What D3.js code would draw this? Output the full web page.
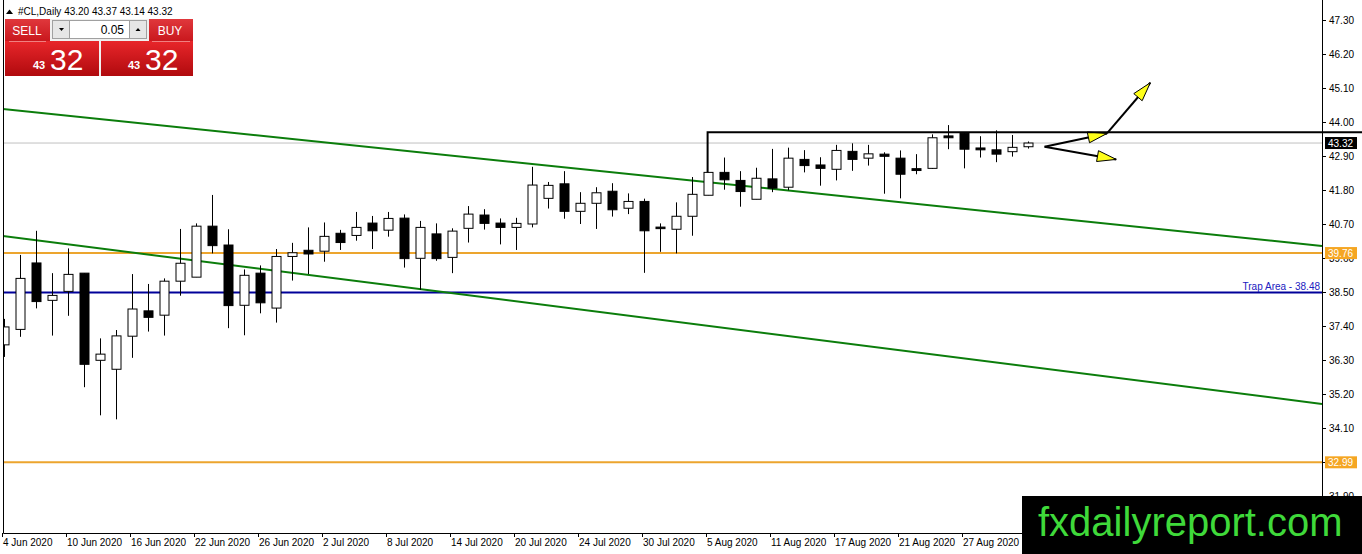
<!DOCTYPE html>
<html>
<head>
<meta charset="utf-8">
<script src="https://cdn.jsdelivr.net/npm/d3@7"></script>
<style>
  body { margin: 0; background: #fff; }
  text { font-family: "Liberation Sans", Arial, sans-serif; }
</style>
</head>
<body>
<script>
const width = 1362;
const height = 554;

// OHLC per daily bar, 4 Jun 2020 .. 2 Sep 2020
const opens  = [36.79, 37.29, 39.44, 38.23, 38.52, 39.11, 36.29, 36.00, 37.07, 37.89,
                37.75, 38.85, 38.98, 40.63, 40.02, 38.07, 39.11, 37.98, 39.65, 39.85,
                39.82, 40.40, 40.33, 40.73, 40.50, 40.89, 39.59, 40.38, 39.62, 40.56,
                40.99, 40.73, 40.59, 40.70, 41.53, 42.00, 41.11, 41.37, 41.76, 41.21,
                41.43, 40.60, 40.53, 40.95, 41.63, 42.37, 42.11, 41.50, 42.16, 41.89,
                42.79, 42.61, 42.47, 43.05, 42.83, 42.96, 42.83, 42.49, 42.50, 43.55,
                43.63, 43.16, 43.10, 43.04, 43.20];
const highs  = [37.63, 39.70, 40.48, 39.11, 39.91, 39.11, 37.00, 37.27, 39.08, 38.76,
                38.94, 40.54, 40.72, 41.64, 40.53, 39.23, 39.36, 39.89, 40.09, 40.59,
                40.75, 40.51, 41.09, 40.96, 41.09, 41.01, 40.80, 40.72, 40.56, 41.28,
                41.18, 40.88, 40.90, 42.55, 42.06, 42.41, 41.73, 41.89, 42.02, 41.69,
                41.52, 40.72, 41.40, 42.22, 42.37, 42.85, 42.41, 42.52, 43.13, 43.17,
                43.09, 42.86, 43.26, 43.31, 43.26, 43.02, 43.08, 42.96, 43.60, 43.90,
                43.66, 43.54, 43.73, 43.58, 43.37];
const lows   = [36.40, 37.05, 37.97, 37.09, 37.73, 35.42, 34.51, 34.38, 36.37, 37.22,
                37.09, 38.38, 38.98, 39.75, 37.33, 37.10, 37.81, 37.51, 38.87, 39.08,
                39.48, 39.86, 40.16, 39.89, 40.29, 39.29, 38.57, 39.51, 39.11, 40.10,
                40.52, 40.04, 39.86, 40.59, 41.20, 40.87, 40.70, 40.54, 40.94, 41.02,
                39.12, 39.80, 39.75, 40.32, 41.63, 41.81, 41.26, 41.50, 41.73, 41.79,
                42.37, 41.94, 42.11, 42.42, 42.59, 41.68, 41.53, 42.31, 42.48, 43.12,
                42.50, 42.85, 42.70, 42.88, 43.14];
const closes = [37.37, 38.94, 38.19, 38.39, 39.07, 36.16, 36.49, 37.08, 37.95, 37.68,
                38.85, 39.43, 40.63, 40.00, 38.06, 39.04, 38.15, 39.65, 39.77, 39.73,
                40.30, 40.10, 40.59, 40.48, 40.88, 39.58, 40.59, 39.58, 40.47, 41.02,
                40.72, 40.59, 40.72, 41.96, 41.95, 41.11, 41.37, 41.71, 41.16, 41.43,
                40.48, 40.55, 40.95, 41.66, 42.37, 42.13, 41.75, 42.18, 41.86, 42.83,
                42.59, 42.50, 43.08, 42.79, 42.97, 42.89, 42.31, 42.43, 43.49, 43.49,
                43.12, 43.10, 42.96, 43.18, 43.32];

// x-axis labels, one every 4 bars
const dateLabels = ['4 Jun 2020', '10 Jun 2020', '16 Jun 2020', '22 Jun 2020', '26 Jun 2020',
                    '2 Jul 2020', '8 Jul 2020', '14 Jul 2020', '20 Jul 2020', '24 Jul 2020',
                    '30 Jul 2020', '5 Aug 2020', '11 Aug 2020', '17 Aug 2020', '21 Aug 2020',
                    '27 Aug 2020'];
const priceTicks = [47.30, 46.20, 45.10, 44.00, 42.90, 41.80, 40.70, 39.60, 38.50,
                    37.40, 36.30, 35.20, 34.10, 33.00, 31.90];

// drawn objects (bar index, price)
const upperChannel = [[-0.06, 44.42], [82.4, 39.99]];
const lowerChannel = [[-0.06, 40.31], [82.4, 34.88]];
const resistance = [[44, 42.37], [44, 43.67], [85, 43.67]];
const orangeLevels = [39.76, 32.99];
const trapLevel = 38.48;
const lastPrice = 43.32;
const arrowStart = [65.06, 43.20];
const arrowMid = [68.96, 43.63];
const arrowUp = [71.67, 45.27];
const arrowDown = [69.54, 42.79];

const bars = opens.map((o, i) => ({i, o, h: highs[i], l: lows[i], c: closes[i]}));

const plot = {left: 3, right: 1322, top: 0, bottom: 533};

const svg = d3.select('body').append('svg')
  .attr('width', width)
  .attr('height', height);

svg.append('rect').attr('width', width).attr('height', height).attr('fill', '#fff');

const x = d3.scaleLinear().domain([0, 64]).range([3.6, 1027.6]);
const y = d3.scaleLinear().domain([31.90, 47.30]).range([496, 20]);

svg.append('clipPath').attr('id', 'plotclip')
  .append('rect')
  .attr('x', plot.left).attr('y', plot.top)
  .attr('width', plot.right - plot.left).attr('height', plot.bottom - plot.top);

const g = svg.append('g').attr('clip-path', 'url(#plotclip)');

// current price line
g.append('line')
  .attr('x1', plot.left).attr('x2', plot.right)
  .attr('y1', y(lastPrice)).attr('y2', y(lastPrice))
  .attr('stroke', '#c0c0c0').attr('stroke-width', 1);

// horizontal levels
g.selectAll('.orange').data(orangeLevels).join('line')
  .attr('class', 'orange')
  .attr('x1', plot.left).attr('x2', plot.right)
  .attr('y1', (d) => y(d)).attr('y2', (d) => y(d))
  .attr('stroke', '#eca52e').attr('stroke-width', 2);

g.append('line')
  .attr('x1', plot.left).attr('x2', plot.right)
  .attr('y1', y(trapLevel)).attr('y2', y(trapLevel))
  .attr('stroke', '#000099').attr('stroke-width', 2);

g.append('text')
  .attr('x', plot.right - 2).attr('y', y(trapLevel) - 3)
  .attr('text-anchor', 'end')
  .attr('font-size', 10)
  .attr('fill', '#2020c0')
  .text('Trap Area - 38.48');

// channel lines
const line = d3.line().x((d) => x(d[0])).y((d) => y(d[1]));
g.selectAll('.channel').data([upperChannel, lowerChannel]).join('path')
  .attr('class', 'channel')
  .attr('d', line)
  .attr('fill', 'none')
  .attr('stroke', '#0b7d0b').attr('stroke-width', 2);

// candles
const bodyW = 9;
const candle = g.selectAll('.candle').data(bars).join('g').attr('class', 'candle');
candle.append('line')
  .attr('x1', (d) => Math.round(x(d.i)) + 0.5).attr('x2', (d) => Math.round(x(d.i)) + 0.5)
  .attr('y1', (d) => y(d.h)).attr('y2', (d) => y(d.l))
  .attr('stroke', '#000').attr('stroke-width', 1);
candle.append('rect')
  .attr('x', (d) => Math.round(x(d.i)) - (bodyW - 1) / 2)
  .attr('y', (d) => y(Math.max(d.o, d.c)))
  .attr('width', bodyW)
  .attr('height', (d) => Math.max(1.5, Math.abs(y(d.o) - y(d.c))))
  .attr('fill', (d) => d.c >= d.o ? '#fff' : '#000')
  .attr('stroke', '#000').attr('stroke-width', 1);

// resistance line (extends across the price scale)
svg.append('path')
  .attr('d', line(resistance))
  .attr('fill', 'none')
  .attr('stroke', '#000').attr('stroke-width', 2);

// arrows
function arrowHead(from, to) {
  const x0 = x(from[0]), y0 = y(from[1]), x1 = x(to[0]), y1 = y(to[1]);
  const a = Math.atan2(y1 - y0, x1 - x0);
  const len = 19, hw = 5.5;
  const bx = x1 - len * Math.cos(a), by = y1 - len * Math.sin(a);
  const pts = [[x1, y1],
    [bx + hw * Math.sin(a), by - hw * Math.cos(a)],
    [bx - hw * Math.sin(a), by + hw * Math.cos(a)]];
  g.append('polygon')
    .attr('points', pts.map((p) => p.join(',')).join(' '))
    .attr('fill', '#ffff1a').attr('stroke', '#000').attr('stroke-width', 1);
}
[[arrowStart, arrowMid], [arrowMid, arrowUp], [arrowStart, arrowDown]].forEach(([a, b]) => {
  g.append('path').attr('d', line([a, b]))
    .attr('stroke', '#000').attr('stroke-width', 2).attr('fill', 'none');
});
arrowHead(arrowStart, arrowMid);
arrowHead(arrowMid, arrowUp);
arrowHead(arrowStart, arrowDown);

// frame
svg.append('path')
  .attr('d', `M${plot.left + 0.5},0 V${plot.bottom + 0.5} H${plot.right + 0.5} V0`)
  .attr('fill', 'none').attr('stroke', '#000').attr('stroke-width', 1);

// price axis
const yAxis = svg.append('g');
yAxis.selectAll('line').data(priceTicks).join('line')
  .attr('x1', plot.right).attr('x2', plot.right + 4)
  .attr('y1', (d) => Math.round(y(d)) + 0.5).attr('y2', (d) => Math.round(y(d)) + 0.5)
  .attr('stroke', '#000');
yAxis.selectAll('text').data(priceTicks).join('text')
  .attr('x', plot.right + 7).attr('y', (d) => y(d) + 3.5)
  .attr('font-size', 10).attr('fill', '#000')
  .text((d) => d.toFixed(2));

// price tags
const tags = [
  {p: lastPrice, bg: '#000'},
  {p: orangeLevels[0], bg: '#f5a623'},
  {p: orangeLevels[1], bg: '#f5a623'}
];
const tag = svg.selectAll('.tag').data(tags).join('g').attr('class', 'tag');
tag.append('rect')
  .attr('x', plot.right + 3).attr('y', (d) => y(d.p) - 6)
  .attr('width', 32).attr('height', 12)
  .attr('fill', (d) => d.bg);
tag.append('text')
  .attr('x', plot.right + 6).attr('y', (d) => y(d.p) + 3.5)
  .attr('font-size', 10).attr('fill', '#fff')
  .text((d) => d.p.toFixed(2));

// time axis
const xAxis = svg.append('g');
const tickIdx = dateLabels.map((d, k) => k * 4);
xAxis.selectAll('line').data(tickIdx).join('line')
  .attr('x1', (d) => Math.round(x(d)) - 1.5).attr('x2', (d) => Math.round(x(d)) - 1.5)
  .attr('y1', plot.bottom).attr('y2', plot.bottom + 4)
  .attr('stroke', '#000');
xAxis.selectAll('text').data(tickIdx).join('text')
  .attr('x', (d) => Math.round(x(d)) - 1).attr('y', 546)
  .attr('font-size', 10).attr('fill', '#000')
  .text((d, k) => dateLabels[k]);

// header
svg.append('path').attr('d', 'M6,14 L9.5,9.5 L13,14 Z').attr('fill', '#000');
svg.append('text')
  .attr('x', 18).attr('y', 15)
  .attr('font-size', 10).attr('fill', '#000')
  .text('#CL,Daily  43.20 43.37 43.14 43.32');

// one-click trading panel
const defs = svg.append('defs');
const grad = defs.append('linearGradient').attr('id', 'redgrad').attr('x1', 0).attr('x2', 0).attr('y1', 0).attr('y2', 1);
grad.append('stop').attr('offset', '0%').attr('stop-color', '#e8262a');
grad.append('stop').attr('offset', '100%').attr('stop-color', '#b00a0e');
const grad2 = defs.append('linearGradient').attr('id', 'btngrad').attr('x1', 0).attr('x2', 0).attr('y1', 0).attr('y2', 1);
grad2.append('stop').attr('offset', '0%').attr('stop-color', '#e0383c');
grad2.append('stop').attr('offset', '100%').attr('stop-color', '#c8161c');

const panel = svg.append('g');
panel.append('rect').attr('x', 5).attr('y', 19).attr('width', 188).attr('height', 57).attr('fill', '#f0f0f0');
panel.append('rect').attr('x', 5).attr('y', 19).attr('width', 45).attr('height', 23).attr('fill', 'url(#btngrad)');
panel.append('rect').attr('x', 149).attr('y', 19).attr('width', 44).attr('height', 23).attr('fill', 'url(#btngrad)');
panel.append('rect').attr('x', 5).attr('y', 41).attr('width', 94).attr('height', 35).attr('fill', 'url(#redgrad)');
panel.append('rect').attr('x', 101).attr('y', 41).attr('width', 92).attr('height', 35).attr('fill', 'url(#redgrad)');
panel.append('line').attr('x1', 9).attr('x2', 46).attr('y1', 41.5).attr('y2', 41.5).attr('stroke', '#f08080');
panel.append('line').attr('x1', 152).attr('x2', 190).attr('y1', 41.5).attr('y2', 41.5).attr('stroke', '#f08080');
panel.append('rect').attr('x', 52.5).attr('y', 20.5).attr('width', 17).attr('height', 18).attr('fill', '#e6e6e6').attr('stroke', '#a0a0a0');
panel.append('rect').attr('x', 69.5).attr('y', 20.5).attr('width', 60).attr('height', 18).attr('fill', '#fff').attr('stroke', '#a0a0a0');
panel.append('rect').attr('x', 129.5).attr('y', 20.5).attr('width', 17).attr('height', 18).attr('fill', '#e6e6e6').attr('stroke', '#a0a0a0');
panel.append('path').attr('d', 'M59,28 L64,28 L61.5,31 Z').attr('fill', '#000');
panel.append('path').attr('d', 'M135.5,31 L140.5,31 L138,28 Z').attr('fill', '#000');
panel.append('text').attr('x', 124).attr('y', 34).attr('text-anchor', 'end').attr('font-size', 12).attr('fill', '#000').text('0.05');
panel.append('text').attr('x', 27).attr('y', 35).attr('text-anchor', 'middle').attr('font-size', 12).attr('fill', '#fff').text('SELL');
panel.append('text').attr('x', 170).attr('y', 35).attr('text-anchor', 'middle').attr('font-size', 12).attr('fill', '#fff').text('BUY');
[[33, 50], [128, 145]].forEach(([sx, bx]) => {
  panel.append('text').attr('x', sx).attr('y', 69).attr('font-size', 11).attr('font-weight', 'bold').attr('fill', '#fff').text('43');
  panel.append('text').attr('x', bx).attr('y', 70).attr('font-size', 30).attr('fill', '#fff').text('32');
});

// watermark
svg.append('rect').attr('x', 1022).attr('y', 496).attr('width', 340).attr('height', 58).attr('fill', '#000');
svg.append('text')
  .attr('x', 1038).attr('y', 536)
  .attr('font-size', 40).attr('fill', '#3fd93a')
  .text('fxdailyreport.com');
</script>
</body>
</html>
